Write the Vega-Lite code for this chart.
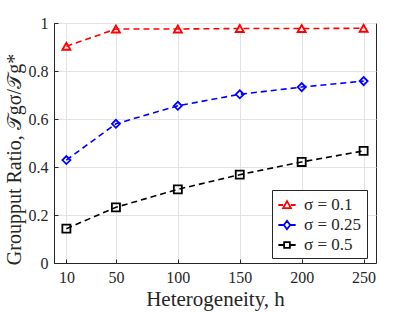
{
  "$schema": "https://vega.github.io/schema/vega-lite/v6.json",
  "autosize": "none",
  "width": 322,
  "height": 240,
  "padding": {"left": 54, "top": 23, "right": 39, "bottom": 49},
  "background": "white",
  "config": {
    "view": {"stroke": "#262626", "strokeWidth": 1},
    "font": "Liberation Serif",
    "axis": {
      "labelFont": "Liberation Serif",
      "titleFont": "Liberation Serif",
      "labelFontSize": 16,
      "titleFontSize": 21,
      "titleFontWeight": "normal",
      "labelColor": "#262626",
      "titleColor": "#262626",
      "domainColor": "#262626",
      "tickColor": "#262626",
      "gridColor": "#e3e3e3",
      "gridWidth": 1,
      "tickSize": -4,
      "labelPadding": 10
    },
    "legend": {"labelFont": "Liberation Serif"}
  },
  "data": {
    "values": [
      {"h": 10, "ratio": 0.903, "sigma": "σ = 0.1"},
      {"h": 50, "ratio": 0.975, "sigma": "σ = 0.1"},
      {"h": 100, "ratio": 0.975, "sigma": "σ = 0.1"},
      {"h": 150, "ratio": 0.977, "sigma": "σ = 0.1"},
      {"h": 200, "ratio": 0.977, "sigma": "σ = 0.1"},
      {"h": 250, "ratio": 0.978, "sigma": "σ = 0.1"},
      {"h": 10, "ratio": 0.429, "sigma": "σ = 0.25"},
      {"h": 50, "ratio": 0.58, "sigma": "σ = 0.25"},
      {"h": 100, "ratio": 0.655, "sigma": "σ = 0.25"},
      {"h": 150, "ratio": 0.703, "sigma": "σ = 0.25"},
      {"h": 200, "ratio": 0.733, "sigma": "σ = 0.25"},
      {"h": 250, "ratio": 0.758, "sigma": "σ = 0.25"},
      {"h": 10, "ratio": 0.143, "sigma": "σ = 0.5"},
      {"h": 50, "ratio": 0.232, "sigma": "σ = 0.5"},
      {"h": 100, "ratio": 0.307, "sigma": "σ = 0.5"},
      {"h": 150, "ratio": 0.368, "sigma": "σ = 0.5"},
      {"h": 200, "ratio": 0.421, "sigma": "σ = 0.5"},
      {"h": 250, "ratio": 0.467, "sigma": "σ = 0.5"}
    ]
  },
  "encoding": {
    "x": {
      "field": "h",
      "type": "quantitative",
      "scale": {"domain": [0, 260], "nice": false, "zero": false},
      "axis": {"values": [10, 50, 100, 150, 200, 250], "title": "Heterogeneity, h", "titlePadding": 3}
    },
    "y": {
      "field": "ratio",
      "type": "quantitative",
      "scale": {"domain": [0, 1], "nice": false},
      "axis": {"values": [0, 0.2, 0.4, 0.6, 0.8, 1], "format": "~g", "title": "Groupput Ratio, 𝒯gσ/𝒯g*", "titleFontSize": 20, "titlePadding": 4, "titleY": 136}
    },
    "color": {
      "field": "sigma",
      "type": "nominal",
      "scale": {"domain": ["σ = 0.1", "σ = 0.25", "σ = 0.5"], "range": ["#ff0000", "#0000ff", "#000000"]},
      "legend": {
        "title": null,
        "orient": "none",
        "legendX": 218,
        "legendY": 167,
        "fillColor": "white",
        "strokeColor": "#262626",
        "padding": 5,
        "cornerRadius": 0,
        "labelFont": "Liberation Serif",
        "labelFontSize": 17,
        "labelColor": "#262626",
        "symbolSize": 300,
        "symbolStrokeWidth": 1.8,
        "symbolFillColor": "transparent",
        "rowPadding": 2,
        "labelOffset": 7,
        "encoding": {
          "symbols": {
            "shape": {"value": {"expr": "datum.value === 'σ = 0.1' ? 'M-1,0H-0.45M0.45,0H1M0,-0.45L0.45,0.35L-0.45,0.35Z' : datum.value === 'σ = 0.25' ? 'M-1,0H-0.36M0.36,0H1M0,-0.5L0.36,0L0,0.5L-0.36,0Z' : 'M-1,0H-0.33M0.33,0H1M-0.33,-0.33H0.33V0.33H-0.33Z'"}},
            "fill": {"value": "transparent"}
          }
        }
      }
    }
  },
  "layer": [
    {
      "mark": {"type": "line", "strokeDash": [6, 4], "strokeWidth": 1.6}
    },
    {
      "mark": {"type": "point", "filled": false, "strokeWidth": 1.8, "size": 65, "opacity": 1},
      "encoding": {
        "shape": {
          "field": "sigma",
          "type": "nominal",
          "scale": {"domain": ["σ = 0.5", "σ = 0.25", "σ = 0.1"], "range": ["square", "diamond", "triangle-up"]},
          "legend": null
        }
      }
    }
  ]
}
